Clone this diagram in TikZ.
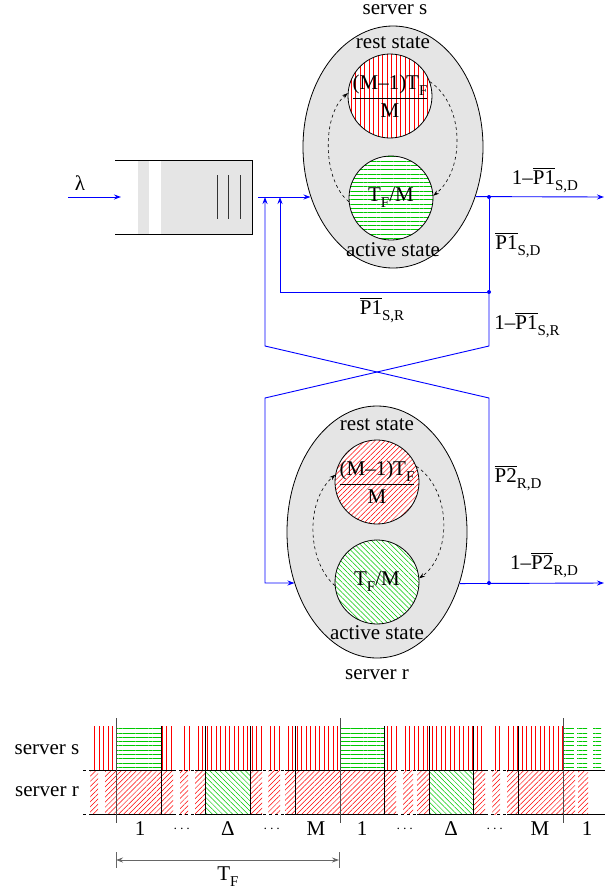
\documentclass[tikz,border=0pt]{standalone}
\usepackage{amsmath}
\usepackage{fontspec}
\setmainfont{Liberation Serif}
\usetikzlibrary{arrows.meta,shapes.geometric,patterns.meta}

\definecolor{hgreen}{RGB}{0,200,0}
\newcommand{\ovl}[1]{\ensuremath{\overline{\mbox{#1}}}}
\newcommand{\lowsub}[1]{\raisebox{-6pt}{\fontsize{15}{17}\selectfont #1}}
\newcommand{\skipdots}{{\fontsize{14}{16}\selectfont$\cdots$}}

\begin{document}
\begin{tikzpicture}[x=1pt,y=-1pt,>={Stealth[length=7pt,width=5pt]},
                    every node/.style={font=\fontsize{21}{25}\selectfont,inner sep=1pt}]
  \tikzstyle{server}=[ellipse,draw,fill=gray!20,line width=0.8pt,inner sep=0pt]
  \tikzstyle{phase}=[circle,draw,line width=0.8pt,minimum size=84pt,inner sep=0pt,
                     preaction={fill=white}]
  \tikzstyle{flow}=[draw=blue,line width=0.9pt]
  \tikzstyle{cycle}=[dashed,line width=0.6pt,->,>={Stealth[length=6pt,width=4pt]}]
  \tikzstyle{junction}=[circle,fill=blue,inner sep=0pt,minimum size=4pt]
  \tikzstyle{vred}=[pattern={Lines[angle=90,distance=4.5pt,line width=0.5pt]},pattern color=red]
  \tikzstyle{hgrn}=[pattern={Lines[angle=0,distance=4.3pt,line width=0.6pt]},pattern color=hgreen]
  \tikzstyle{nered}=[pattern={Lines[angle=45,distance=3.6pt,line width=0.5pt]},pattern color=red]
  \tikzstyle{nwgrn}=[pattern={Lines[angle=-45,distance=3.6pt,line width=0.5pt]},pattern color=hgreen]

  \useasboundingbox (0,0) rectangle (605,892);

  % server s
  \node[server,minimum width=180pt,minimum height=242pt] (S) at (393,147) {};
  \node (Sname) at (395,10) {server s};
  \node (Srest) at (393,43) {rest state};
  \node (Sact)  at (393,250) {active state};
  \node[phase,vred] (Sr) at (390,96) {};
  \node[phase,hgrn] (Sa) at (391,198) {};
  \node (Srtxt) at (Sr) {$\dfrac{\mbox{(M–1)T\lowsub{F}}}{\mbox{M}}$};
  \node (Satxt) at (Sa) {T\lowsub{F}/M};
  \draw[cycle] (Sa.185) .. controls (322,180) and (322,115) .. (Sr.176);
  \draw[cycle] (Sr.20) .. controls (465,105) and (465,170) .. (Sa.3);

  % queue
  \fill[gray!20] (138,160) rectangle (252,234);
  \fill[white] (149,160) rectangle (161,234);
  \draw[line width=0.9pt] (115,160) -- (252,160) -- (252,234) -- (115,234);
  \foreach \x in {217,228,240}
    \draw[line width=0.8pt,black!80] (\x,175) -- (\x,219);

  % server r
  \node[server,minimum width=180pt,minimum height=252pt] (R) at (377,532) {};
  \node (Rrest) at (377,425) {rest state};
  \node (Ract)  at (377,633) {active state};
  \node (Rname) at (377,675) {server r};
  \node[phase,nered] (Rr) at (377,482) {};
  \node[phase,nwgrn] (Ra) at (377,582) {};
  \node (Rrtxt) at (Rr) {$\dfrac{\mbox{(M–1)T\lowsub{F}}}{\mbox{M}}$};
  \node (Ratxt) at (Ra) {T\lowsub{F}/M};
  \draw[cycle] (Ra.185) .. controls (306,560) and (306,500) .. (Rr.170);
  \draw[cycle] (Rr.22) .. controls (452,490) and (452,555) .. (Ra.5);

  % flows
  \coordinate (src)  at (68,197);
  \coordinate (Qin)  at (121,197);
  \coordinate (Qout) at (258,197);
  \coordinate (Sout) at (604,197);
  \coordinate (fb1)  at (280,292);
  \coordinate (fb1e) at (280,197);
  \coordinate (x1)   at (489,346);
  \coordinate (x2)   at (265,398);
  \coordinate (rin)  at (265,583);
  \coordinate (Rout) at (604,583);
  \coordinate (x3)   at (489,398);
  \coordinate (x4)   at (265,346);
  \coordinate (fb2e) at (265,197);
  \node[junction] (d1) at (489,197) {};
  \node[junction] (d2) at (489,292) {};
  \node[junction] (d3) at (489,583) {};

  \draw[flow,->] (src) -- (Qin);
  \draw[flow,->] (Qout) -- (Qout -| S.211);
  \draw[flow,->] (S.329) -- (Sout);
  \draw[flow] (d1) -- (d2);
  \draw[flow,->] (d2) -- (fb1) -- (fb1e);
  \draw[flow,->] (d2) -- (x1) -- (x2) -- (rin) -- (rin -| R.212);
  \draw[flow,->] (R.328) -- (Rout);
  \draw[flow,->] (d3) -- (x3) -- (x4) -- (fb2e);

  \node (lam)  at (80,183)  {λ};
  \node (pSD1) at (545,180) {1–\ovl{P1}\lowsub{S,D}};
  \node (pSD)  at (518,245) {\ovl{P1}\lowsub{S,D}};
  \node (pSR)  at (382,310) {\ovl{P1}\lowsub{S,R}};
  \node (pSR1) at (527,325) {1–\ovl{P1}\lowsub{S,R}};
  \node (pRD)  at (518,478) {\ovl{P2}\lowsub{R,D}};
  \node (pRD1) at (544,565) {1–\ovl{P2}\lowsub{R,D}};

  % timeline
  \node (rowS) at (47,750) {server s};
  \node (rowR) at (47,792) {server r};
  \foreach \a/\b in {91/113,162/173,182/190,196/263,270/280,285/340,385/397,404/473,
                     475/485,494/503,508/563}
    \fill[vred] (\a,726) rectangle (\b,770);
  \foreach \a/\b in {116/161,340/384,563/574,577/587,593/601}
    \fill[hgrn] (\a,726) rectangle (\b,770);
  \foreach \a/\b in {90/98,105/173,180/188,195/205,251/262,268/280,285/396,403/413,
                     417/429,474/485,492/500,507/575,578/588}
    \fill[nered] (\a,770) rectangle (\b,814);
  \foreach \a/\b in {205/250,429/473}
    \fill[nwgrn] (\a,770) rectangle (\b,814);
  \foreach \y in {770,814} {
    \draw[dashed,line width=0.6pt] (83,\y) -- (605,\y);
    \foreach \a/\b in {92/173,195/262,285/396,417/485,507/605}
      \draw[line width=0.8pt] (\a,\y) -- (\b,\y);
  }
  \foreach \x in {161,205,250,295,384,429,473,518}
    \draw[line width=0.8pt] (\x,726) -- (\x,814);
  \foreach \x in {116,340,563}
    \draw[line width=0.8pt,black!70] (\x,718) -- (\x,823);
  \foreach \x/\t [count=\i] in {140/1,183/\skipdots,228/Δ,273/\skipdots,316/M,362/1,
                                406/\skipdots,451/Δ,496/\skipdots,540/M,587/1}
    \node (slot\i) at (\x,829) {\t};

  \coordinate (tfa) at (116,860);
  \coordinate (tfb) at (339,860);
  \draw[black!60,line width=0.9pt] (116,852) -- (116,868) (339,852) -- (339,868);
  \draw[black!60,line width=0.9pt,<->] (tfa) -- (tfb);
  \node (tf) at (228,877) {T\lowsub{F}};
\end{tikzpicture}
\end{document}
